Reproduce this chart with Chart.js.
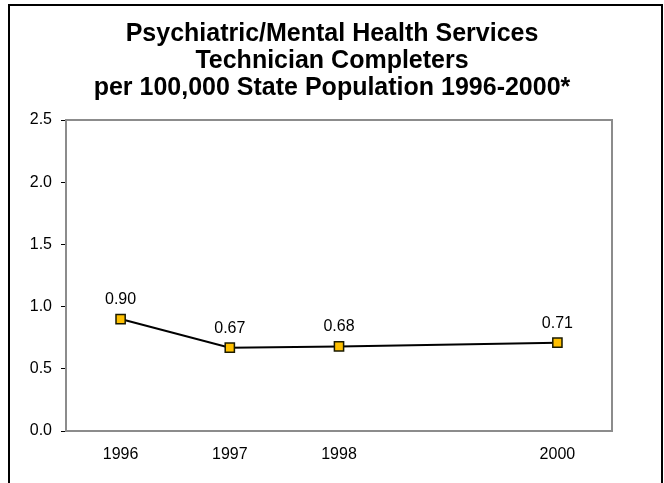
<!DOCTYPE html>
<html>
<head>
<meta charset="utf-8">
<script src="https://cdn.jsdelivr.net/npm/chart.js@4"></script>
<style>
  body { margin: 0; background: #fff; }
  #chart { display: block; }
</style>
</head>
<body>
<canvas id="chart" width="664" height="483"></canvas>
<script>
var years = [1996, 1997, 1998, 2000];
var completers = [0.90, 0.67, 0.68, 0.71];
var yTicks = [0, 0.5, 1.0, 1.5, 2.0, 2.5];
var titleLines = ['Psychiatric/Mental Health Services', 'Technician Completers', 'per 100,000 State Population 1996-2000*'];

var points = years.map(function (y, i) { return { x: y, y: completers[i] }; });
var FONT = '"Liberation Sans", Arial, sans-serif';

// outer frame + grey plot box
var framePlugin = {
  id: 'frame',
  beforeDraw: function (chart) {
    var ctx = chart.ctx;
    ctx.save();
    ctx.strokeStyle = '#000';
    ctx.lineWidth = 2;
    ctx.beginPath();
    ctx.moveTo(9, 490);
    ctx.lineTo(9, 5);
    ctx.lineTo(662, 5);
    ctx.lineTo(662, 490);
    ctx.stroke();
    ctx.restore();
  },
  beforeDatasetsDraw: function (chart) {
    var a = chart.chartArea;
    var ctx = chart.ctx;
    ctx.save();
    ctx.strokeStyle = '#8c8c8c';
    ctx.lineWidth = 2;
    ctx.strokeRect(a.left, a.top, a.right - a.left, a.bottom - a.top);
    ctx.restore();
  }
};

// value labels above the markers
var valueLabels = {
  id: 'valueLabels',
  afterDatasetsDraw: function (chart) {
    var ctx = chart.ctx;
    var meta = chart.getDatasetMeta(0);
    ctx.save();
    ctx.font = '16px ' + FONT;
    ctx.fillStyle = '#000';
    ctx.textAlign = 'center';
    ctx.textBaseline = 'alphabetic';
    meta.data.forEach(function (pt, i) {
      ctx.fillText(completers[i].toFixed(2), pt.x, pt.y - 15);
    });
    ctx.restore();
  }
};

new Chart(document.getElementById('chart'), {
  type: 'line',
  data: {
    datasets: [{
      data: points,
      borderColor: '#000',
      borderWidth: 2,
      tension: 0,
      pointStyle: 'rect',
      pointRadius: 6.5,
      pointBackgroundColor: '#FFC000',
      pointBorderColor: '#1a1a00',
      pointBorderWidth: 1.5
    }]
  },
  options: {
    responsive: false,
    animation: false,
    layout: { padding: 0 },
    plugins: {
      legend: { display: false },
      tooltip: { enabled: false },
      title: {
        display: true,
        text: titleLines,
        color: '#000',
        font: { family: FONT, size: 25, weight: 'bold', lineHeight: 1.08 },
        padding: { top: 21, bottom: 18 }
      }
    },
    scales: {
      x: {
        type: 'linear',
        min: 1995.5,
        max: 2000.5,
        afterBuildTicks: function (scale) {
          scale.ticks = years.map(function (y) { return { value: y }; });
        },
        afterFit: function (scale) { scale.height = 52; },
        grid: { display: false, drawTicks: false },
        border: { display: true, color: '#404040', width: 2 },
        ticks: {
          color: '#000',
          padding: 14,
          font: { family: FONT, size: 16 },
          callback: function (v) { return String(v); }
        }
      },
      y: {
        min: 0,
        max: 2.5,
        afterBuildTicks: function (scale) {
          scale.ticks = yTicks.map(function (v) { return { value: v }; });
        },
        afterFit: function (scale) { scale.width = 66; },
        grid: { drawOnChartArea: false, drawTicks: true, tickLength: 5, color: '#000', tickWidth: 1 },
        border: { display: true, color: '#404040', width: 2 },
        ticks: {
          color: '#000',
          padding: 9,
          font: { family: FONT, size: 16 },
          callback: function (v) { return v.toFixed(1); }
        }
      },
      y2: {
        position: 'right',
        min: 0,
        max: 2.5,
        afterFit: function (scale) { scale.width = 52; },
        grid: { display: false },
        border: { display: false },
        ticks: { display: false }
      }
    }
  },
  plugins: [framePlugin, valueLabels]
});
</script>
</body>
</html>
